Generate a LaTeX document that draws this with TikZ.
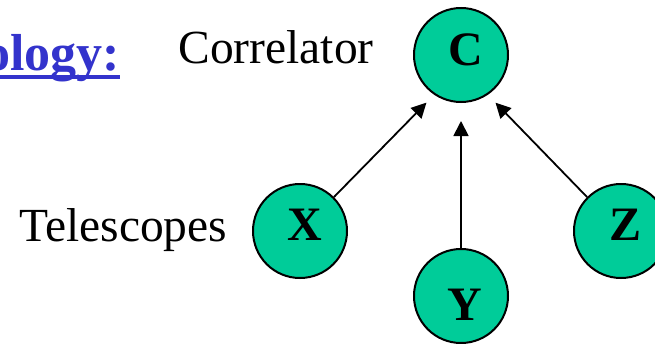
\documentclass[tikz,border=0pt]{standalone}
\usepackage{fontspec}
\setmainfont{Liberation Serif}
\usetikzlibrary{arrows.meta}
\definecolor{dishgreen}{RGB}{0,204,153}
\definecolor{titleblue}{RGB}{51,51,204}

\begin{document}
\begin{tikzpicture}
  [ x=1pt, y=-1pt,
    site/.style={circle, draw=black, line width=2pt, fill=dishgreen, minimum size=94pt, inner sep=0pt},
    letter/.style={anchor=base, font=\fontsize{48}{48}\selectfont\bfseries},
    words/.style={anchor=base west, font=\fontsize{47.5}{50}\selectfont},
    heading/.style={anchor=base east, text=titleblue, inner sep=0pt, font=\fontsize{52}{54}\selectfont\bfseries},
    link/.style={-{Triangle[length=15pt, width=15pt]}, line width=1.8pt, black}
  ]
  \useasboundingbox (0,0) rectangle (655,343);
  \clip (0,0) rectangle (655,343);

  \node[heading] (topo) at (120,70) {Topology:};
  \draw [titleblue, line width=4pt] ([yshift=-7pt]topo.base west) -- ([yshift=-7pt]topo.base east);
  \node[words] (corr) at (175,63) {Correlator};
  \node[words] (tele) at (16,241) {Telescopes};

  \node[site] (c) at (461,55) {};
  \node[site] (x) at (300,231) {};
  \node[site] (y) at (461,296) {};
  \node[site] (z) at (621,231) {};

  \node[letter] (cl) at ([shift={(5,10)}]c.center) {C};
  \node[letter] (xl) at ([shift={(5,9)}]x.center) {X};
  \node[letter] (yl) at ([shift={(4,24)}]y.center) {Y};
  \node[letter] (zl) at ([shift={(4,9)}]z.center) {Z};

  \draw [link, shorten >=11pt] (x.45) -- (c.236);
  \draw [link, shorten >=18pt] (y) -- (c);
  \draw [link, shorten >=11pt] (z.135) -- (c.304);
\end{tikzpicture}
\end{document}
